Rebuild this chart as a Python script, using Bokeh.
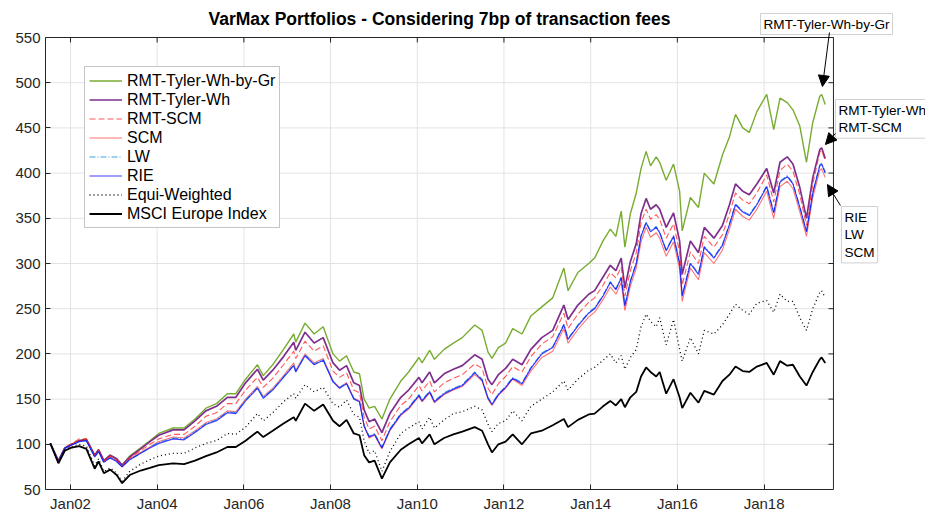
import math
import pandas as pd
from bokeh.plotting import figure
from bokeh.models import (ColumnDataSource, Legend, LegendItem, FixedTicker,
                          DatetimeTickFormatter, Range1d, Label, Arrow, NormalHead)
from bokeh.embed import file_html
from bokeh.resources import INLINE

dates = [
    "2001-07-15", "2001-09-21", "2001-11-15", "2002-01-02", "2002-03-15", "2002-05-15", "2002-07-24", "2002-08-25", "2002-10-09", "2002-12-01",
    "2003-01-25", "2003-03-12", "2003-05-15", "2003-08-15", "2003-11-01", "2004-01-15", "2004-05-15", "2004-08-15", "2004-11-15", "2005-02-15",
    "2005-05-15", "2005-08-15", "2005-10-25", "2006-01-15", "2006-04-25", "2006-06-13", "2006-09-01", "2006-12-01", "2007-02-25", "2007-03-14",
    "2007-05-31", "2007-08-16", "2007-10-31", "2008-01-22", "2008-03-17", "2008-05-15", "2008-07-15", "2008-09-01", "2008-10-10", "2008-11-21",
    "2009-01-06", "2009-03-09", "2009-05-15", "2009-08-15", "2009-10-20", "2010-01-15", "2010-02-10", "2010-04-15", "2010-05-25", "2010-08-15",
    "2010-11-01", "2011-01-15", "2011-04-30", "2011-07-01", "2011-08-20", "2011-09-22", "2011-11-15", "2012-01-15", "2012-03-15", "2012-06-01",
    "2012-08-15", "2012-11-15", "2013-02-15", "2013-05-20", "2013-06-24", "2013-09-15", "2013-12-15", "2014-02-03", "2014-04-15", "2014-06-15",
    "2014-08-01", "2014-09-15", "2014-10-16", "2014-12-01", "2015-01-20", "2015-03-01", "2015-04-13", "2015-05-20", "2015-07-07", "2015-08-05",
    "2015-09-29", "2015-11-30", "2016-01-20", "2016-02-11", "2016-04-20", "2016-06-27", "2016-08-15", "2016-11-04", "2017-01-15", "2017-03-15",
    "2017-05-05", "2017-07-05", "2017-08-29", "2017-11-01", "2018-01-23", "2018-03-23", "2018-05-15", "2018-07-15", "2018-09-01", "2018-10-29",
    "2018-12-24", "2019-02-15", "2019-04-15", "2019-05-01", "2019-05-31",
]

rmt_tyler_wh_by_gr = [
    101, 82, 96, 99, 104, 106, 88, 94, 82, 88,
    84, 77, 87, 96, 104, 112, 118, 118, 128, 140,
    145, 156, 156, 172, 188, 176, 188, 205, 222, 213,
    234, 222, 230, 200, 192, 198, 180, 178, 150, 140,
    142, 128, 150, 170, 180, 196, 190, 204, 194, 205,
    212, 218, 232, 226, 202, 195, 207, 212, 228, 222,
    242, 252, 262, 295, 270, 290, 300, 306, 325, 338,
    330, 358, 318, 355, 378, 405, 424, 408, 418, 412,
    392, 410, 380, 336, 373, 362, 400, 388, 420, 440,
    465, 450, 445, 468, 487, 448, 483, 478, 470, 452,
    412, 456, 485, 487, 476,
]
rmt_tyler_wh = [
    101, 82, 96, 99, 104, 105, 88, 94, 82, 88,
    84, 77, 86, 95, 103, 110, 116, 116, 126, 137,
    142, 152, 152, 168, 183, 171, 182, 197, 213, 204,
    224, 212, 218, 190, 182, 187, 168, 165, 138, 125,
    128, 113, 134, 152, 160, 174, 168, 180, 168, 178,
    183, 187, 199, 194, 172, 166, 177, 184, 194, 188,
    205, 218, 226, 254, 238, 254, 266, 270, 285, 298,
    292, 306, 273, 302, 322, 355, 372, 360, 365, 360,
    340, 356, 325, 288, 325, 312, 340, 328, 342, 365,
    388, 380, 376, 388, 405, 378, 412, 418, 410, 384,
    350, 395, 426, 428, 416,
]
rmt_scm = [
    101, 82, 97, 100, 106, 106, 88, 94, 82, 87,
    83, 76, 85, 93, 100, 106, 111, 111, 120, 131,
    135, 145, 145, 160, 174, 163, 173, 188, 203, 195,
    214, 203, 209, 181, 174, 179, 160, 157, 130, 117,
    120, 104, 125, 143, 150, 165, 159, 170, 158, 168,
    173, 177, 189, 184, 162, 155, 167, 175, 186, 180,
    197, 211, 219, 245, 228, 244, 257, 262, 276, 290,
    284, 296, 264, 292, 312, 345, 360, 349, 354, 349,
    328, 344, 313, 276, 313, 300, 330, 318, 332, 355,
    378, 370, 366, 378, 398, 368, 403, 410, 402, 376,
    342, 388, 423, 425, 414,
]
scm = [
    101, 81, 96, 100, 104, 105, 87, 93, 81, 86,
    82, 75, 84, 91, 97, 103, 108, 107, 115, 124,
    128, 137, 136, 150, 164, 153, 162, 176, 190, 182,
    200, 190, 195, 170, 163, 168, 151, 148, 120, 107,
    110, 95, 115, 132, 139, 153, 147, 157, 146, 155,
    160, 164, 177, 170, 150, 143, 154, 162, 172, 165,
    181, 196, 203, 228, 212, 227, 241, 246, 260, 274,
    266, 279, 248, 275, 295, 324, 340, 329, 334, 328,
    308, 324, 294, 258, 295, 282, 312, 300, 315, 338,
    360, 352, 348, 360, 380, 350, 385, 391, 383, 357,
    330, 373, 403, 405, 395,
]
lw = [
    101, 81, 96, 99, 103, 104, 86, 92, 80, 85,
    81, 75, 83, 90, 97, 102, 107, 106, 114, 123,
    127, 136, 135, 149, 163, 152, 161, 175, 188, 181,
    199, 189, 194, 170, 163, 168, 151, 148, 121, 109,
    112, 97, 117, 134, 141, 155, 149, 159, 148, 157,
    162, 166, 180, 172, 152, 145, 156, 164, 174, 168,
    185, 201, 208, 233, 217, 232, 246, 251, 265, 280,
    272, 285, 254, 281, 301, 331, 346, 336, 341, 335,
    315, 331, 301, 265, 301, 289, 319, 307, 321, 344,
    366, 358, 354, 366, 386, 357, 391, 397, 389, 363,
    336, 379, 409, 411, 401,
]
rie = [
    101, 81, 96, 99, 103, 104, 86, 92, 80, 85,
    81, 75, 83, 90, 96, 101, 106, 105, 113, 122,
    126, 135, 134, 148, 162, 151, 160, 174, 187, 180,
    198, 188, 193, 169, 162, 167, 150, 147, 120, 108,
    111, 96, 116, 133, 140, 154, 148, 158, 147, 156,
    161, 165, 179, 171, 151, 144, 155, 163, 173, 167,
    184, 200, 207, 232, 216, 231, 245, 250, 264, 279,
    271, 284, 253, 280, 300, 330, 345, 335, 340, 334,
    314, 330, 300, 264, 300, 288, 318, 306, 320, 343,
    365, 357, 353, 365, 385, 356, 390, 396, 388, 362,
    335, 378, 408, 410, 400,
]
equi_weighted = [
    101, 79, 94, 97, 100, 98, 76, 84, 70, 74,
    68, 59, 70, 78, 83, 87, 90, 90, 96, 101,
    104, 112, 111, 119, 134, 126, 135, 147, 156, 151,
    166, 158, 163, 145, 141, 149, 133, 130, 104, 90,
    93, 70, 92, 112, 118, 125, 117, 130, 118, 127,
    134, 136, 142, 138, 122, 114, 123, 126, 137, 126,
    142, 150, 158, 170, 160, 172, 182, 185, 193, 200,
    190, 198, 183, 196, 205, 230, 244, 236, 230, 240,
    210, 238, 205, 192, 218, 200, 226, 222, 232, 244,
    255, 248, 244, 256, 259, 246, 266, 258, 258, 240,
    226, 250, 268, 270, 262,
]
msci_europe = [
    101, 79, 93, 96, 98, 95, 73, 81, 68, 72,
    66, 57, 66, 71, 74, 77, 79, 78, 82, 87,
    91, 97, 97, 104, 114, 108, 115, 123, 130, 126,
    145, 137, 144, 126, 120, 127, 112, 110, 88, 80,
    82, 62, 80, 94, 100, 107, 101, 111, 100, 107,
    111, 114, 119, 115, 100, 91, 100, 103, 111, 100,
    112, 115, 121, 128, 119, 127, 133, 134, 142, 148,
    143, 150, 141, 152, 158, 175, 185, 180, 175, 180,
    156, 172, 152, 140, 157, 146, 159, 155, 170, 177,
    186, 181, 180, 186, 190, 177, 192, 187, 188, 175,
    165, 180, 194, 196, 190,
]

series_names = ["RMT-Tyler-Wh-by-Gr", "RMT-Tyler-Wh", "RMT-SCM", "SCM", "LW", "RIE",
                "Equi-Weighted", "MSCI Europe Index"]
title_text = "VarMax Portfolios - Considering 7bp of transaction fees"
tick_years = [2002, 2004, 2006, 2008, 2010, 2012, 2014, 2016, 2018]
y_ticks = [50, 100, 150, 200, 250, 300, 350, 400, 450, 500, 550]


def ts(s):
    return pd.Timestamp(s).value / 1e6


def yr(frac_year):
    y = int(frac_year)
    start = pd.Timestamp(f"{y}-01-01")
    end = pd.Timestamp(f"{y + 1}-01-01")
    return (start + (end - start) * (frac_year - y)).value / 1e6


# ---- layout: the frame spans the whole canvas right/top of the axes, so that
# the annotation boxes in the margin are inside the drawable area.
LEFT, BOTTOM_PX = 45, 489          # frame left edge, frame bottom (canvas px)
FRAME_W, FRAME_H = 880, 489
PX_PER_YEAR = 43.35
PX_PER_UNIT = 0.904
YEAR0 = 2001.423                    # left edge of axes box
YEAR1 = 2019.601                    # right edge of axes box
Y0, Y1 = 50, 550                    # axes box limits


def cx(px):
    return yr(YEAR0 + (px - LEFT) / PX_PER_YEAR)


def cy(py):
    return Y0 + (BOTTOM_PX - py) / PX_PER_UNIT


X0, X1 = yr(YEAR0), yr(YEAR1)
FONT = "Liberation Sans"
AX = "#262626"

src = ColumnDataSource(dict(
    x=pd.to_datetime(dates), g=rmt_tyler_wh_by_gr, p=rmt_tyler_wh, rs=rmt_scm, s=scm,
    lw=lw, rie=rie, eq=equi_weighted, m=msci_europe))

p = figure(x_axis_type="datetime", frame_width=FRAME_W, frame_height=FRAME_H,
           min_border_left=LEFT, min_border_right=0, min_border_top=0, min_border_bottom=22,
           x_range=Range1d(cx(LEFT), cx(LEFT + FRAME_W)), y_range=Range1d(cy(BOTTOM_PX), cy(0)),
           output_backend="svg", toolbar_location=None)
p.outline_line_color = None
p.background_fill_color = "white"
p.grid.visible = False

xticks = [ts(f"{y}-01-01") for y in tick_years]
p.xaxis.ticker = FixedTicker(ticks=xticks)
p.xaxis.formatter = DatetimeTickFormatter(years="%b%y", months="%b%y", days="%b%y", hours="%b%y")
p.yaxis.ticker = FixedTicker(ticks=y_ticks)
p.xaxis.bounds = (X0, X1)
p.yaxis.bounds = (Y0, Y1)
for ax in [p.xaxis[0], p.yaxis[0]]:
    ax.major_tick_in = 5
    ax.major_tick_out = 0
    ax.minor_tick_in = 0
    ax.minor_tick_out = 0
    ax.axis_line_color = AX
    ax.major_tick_line_color = AX
    ax.major_label_text_font = FONT
    ax.major_label_text_font_size = "15px"
    ax.major_label_text_color = AX
    ax.major_label_standoff = 5

# grid lines limited to the axes box
GRID = "#e3e3e3"
p.segment(x0=xticks, y0=[Y0] * len(xticks), x1=xticks, y1=[Y1] * len(xticks),
          line_color=GRID, line_width=1)
p.segment(x0=[X0] * len(y_ticks), y0=y_ticks, x1=[X1] * len(y_ticks), y1=y_ticks,
          line_color=GRID, line_width=1)
# top and right sides of the box, with inward ticks
p.segment(x0=[X0, X1], y0=[Y1, Y0], x1=[X1, X1], y1=[Y1, Y1], line_color=AX, line_width=1)
p.ray(x=xticks, y=[Y1] * len(xticks), length=5, length_units="screen", angle=-math.pi / 2,
      line_color=AX, line_width=1)
p.ray(x=[X1] * len(y_ticks), y=y_ticks, length=5, length_units="screen", angle=math.pi,
      line_color=AX, line_width=1)

r_g = p.line("x", "g", source=src, line_color="#77AC30", line_width=1.4)
r_p = p.line("x", "p", source=src, line_color="#7E2F8E", line_width=1.7)
r_rs = p.line("x", "rs", source=src, line_color="#ff2020", line_alpha=0.75, line_width=1.1,
              line_dash="6 3")
r_s = p.line("x", "s", source=src, line_color="#ff0000", line_alpha=0.55, line_width=1.1)
r_lw = p.line("x", "lw", source=src, line_color="#3fa0e0", line_width=1.1, line_dash="6 2 1 2")
r_rie = p.line("x", "rie", source=src, line_color="#0000ff", line_alpha=0.75, line_width=1.2)
r_eq = p.line("x", "eq", source=src, line_color="black", line_width=1.3, line_dash="1 3")
r_m = p.line("x", "m", source=src, line_color="black", line_width=1.8)

renderers = [r_g, r_p, r_rs, r_s, r_lw, r_rie, r_eq, r_m]
legend = Legend(items=[LegendItem(label=n, renderers=[r]) for n, r in zip(series_names, renderers)],
                location=(39, 261), label_text_font=FONT, label_text_font_size="16px",
                label_text_color="#000000", label_height=19, glyph_height=19, glyph_width=33,
                spacing=0, padding=4, margin=0, label_standoff=5,
                border_line_color="#8c8c8c", border_line_width=1, background_fill_alpha=1)
p.add_layout(legend)

# title
p.add_layout(Label(x=(X0 + X1) / 2, y=cy(18), text=title_text, text_font=FONT,
                   text_font_size="17.5px", text_font_style="bold", text_color="#000000",
                   text_align="center", text_baseline="middle"))

# annotation boxes and arrows in the right-hand margin
ann_style = dict(text_font=FONT, text_font_size="13.6px", text_color="#000000",
                 background_fill_color="white", border_line_color="#d0d0d0",
                 padding=3, anchor="top_left", text_line_height=1.18)
p.add_layout(Label(x=cx(760), y=cy(13), text="RMT-Tyler-Wh-by-Gr", **ann_style))
p.add_layout(Label(x=cx(835), y=cy(99), text="RMT-Tyler-Wh\nRMT-SCM", **ann_style))
p.add_layout(Label(x=cx(841), y=cy(206), text="RIE\nLW\nSCM", **ann_style))

for (x0, y0, x1, y1) in [(829, 32, 822, 86), (835, 133, 825, 144), (840, 205, 827, 184)]:
    p.add_layout(Arrow(x_start=cx(x0), y_start=cy(y0), x_end=cx(x1), y_end=cy(y1),
                       line_width=1, line_color="#000000",
                       end=NormalHead(size=11, fill_color="black", line_color="black")))

open("out.html", "w").write(file_html(p, INLINE))
